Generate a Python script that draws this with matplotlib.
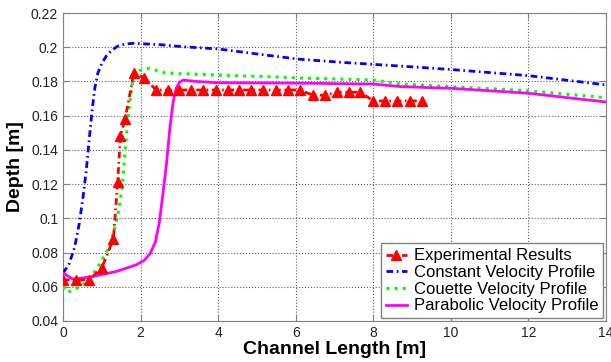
import numpy as np
import matplotlib
matplotlib.use('Agg')
import matplotlib.pyplot as plt

plt.rcParams['font.family'] = ['Liberation Sans', 'DejaVu Sans']

# experimental measurements
exp_x = [0, 0.33, 0.67, 1.0, 1.3, 1.41, 1.48, 1.6, 1.83, 2.1, 2.4, 2.7, 3.0, 3.3, 3.6,
         3.95, 4.25, 4.55, 4.85, 5.15, 5.5, 5.8, 6.1, 6.45, 6.75, 7.07, 7.37, 7.67,
         8.0, 8.3, 8.6, 8.95, 9.25]
exp_y = [0.064, 0.064, 0.064, 0.071, 0.088, 0.121, 0.148, 0.158, 0.185, 0.182, 0.175,
         0.175, 0.175, 0.175, 0.175, 0.175, 0.175, 0.175, 0.175, 0.175, 0.175, 0.175,
         0.175, 0.172, 0.172, 0.1737, 0.1737, 0.1737, 0.1686, 0.1686, 0.1686, 0.1686,
         0.1686]

# constant velocity profile
const_x = [0, 0.15, 0.3, 0.42, 0.52, 0.6, 0.68, 0.75, 0.82, 0.9, 1.0, 1.12, 1.25, 1.4,
           1.6, 1.8, 2.5, 3.1, 4.0, 5.2, 6.1, 7.3, 8.7, 10, 12, 14]
const_y = [0.068, 0.073, 0.083, 0.097, 0.113, 0.128, 0.147, 0.163, 0.176, 0.185,
           0.1905, 0.195, 0.198, 0.2005, 0.2018, 0.2023, 0.2015, 0.2003, 0.199, 0.1955,
           0.193, 0.191, 0.189, 0.187, 0.1834, 0.178]

# couette velocity profile
cou_x = [0, 0.12, 0.5, 0.86, 1.2, 1.41, 1.53, 1.61, 1.7, 1.8, 1.97, 2.23, 2.66, 3.95,
         5.6, 6.1, 8.0, 8.7, 10, 12, 14]
cou_y = [0.060, 0.0567, 0.0606, 0.070, 0.0835, 0.101, 0.1186, 0.142, 0.1634, 0.181,
         0.1863, 0.1877, 0.1848, 0.1838, 0.1825, 0.182, 0.1809, 0.1785, 0.177, 0.1745,
         0.1705]

# parabolic velocity profile
par_x = [0, 0.25, 0.68, 1.37, 1.89, 2.1, 2.25, 2.38, 2.48, 2.57, 2.66, 2.76, 2.84,
         2.92, 3.0, 3.1, 3.44, 3.95, 6.1, 8.0, 8.7, 10, 12, 14]
par_y = [0.068, 0.0645, 0.0656, 0.0689, 0.0728, 0.0755, 0.0795, 0.086, 0.097, 0.113,
         0.130, 0.1536, 0.168, 0.176, 0.1795, 0.1808, 0.180, 0.1793, 0.179, 0.1785,
         0.177, 0.176, 0.1731, 0.168]

xticks = [0, 2, 4, 6, 8, 10, 12, 14]
yticks = [0.04, 0.06, 0.08, 0.1, 0.12, 0.14, 0.16, 0.18, 0.2, 0.22]
ytick_labels = ['0.04', '0.06', '0.08', '0.1', '0.12', '0.14', '0.16', '0.18', '0.2', '0.22']

fig = plt.figure(figsize=(6.11, 3.62), dpi=100)
ax = fig.add_axes([0.1031, 0.1133, 0.8887, 0.8507])

# matlab style dash-dot
dd = (2.4, 1.3, 0.6, 1.3)

ax.plot(exp_x, exp_y, color='#ff0000', lw=2, dashes=dd, marker='^', markersize=6.5,
        label='Experimental Results', zorder=5)
ax.plot(const_x, const_y, color='#0000ff', lw=2, dashes=dd,
        label='Constant Velocity Profile', zorder=3)
ax.plot(cou_x, cou_y, ':', color='#00ff00', lw=2.2,
        label='Couette Velocity Profile', zorder=3)
ax.plot(par_x, par_y, '-', color='#ff00ff', lw=2,
        label='Parabolic Velocity Profile', zorder=4)

ax.set_xlim(0, 14)
ax.set_ylim(0.04, 0.22)
ax.set_xticks(xticks)
ax.set_yticks(yticks)
ax.set_yticklabels(ytick_labels)
ax.tick_params(direction='in', length=4, labelsize=10, colors='#808080',
               labelcolor='#222222', top=True, right=True, labeltop=False, labelright=False)
for s in ax.spines.values():
    s.set_color('#808080')

ax.grid(True, linestyle=':', color='#606060', lw=0.8)
ax.set_xlabel('Channel Length [m]', fontsize=14, fontweight='bold', labelpad=1)
ax.set_ylabel('Depth [m]', fontsize=14, fontweight='bold', labelpad=5)

leg = ax.legend(loc='lower right', fontsize=12, fancybox=False, framealpha=1,
                edgecolor='#808080', borderaxespad=0.15, labelspacing=0.1,
                handlelength=1.3, handletextpad=0.4, borderpad=0.3)
leg.get_frame().set_linewidth(1.0)

fig.savefig('out.png', dpi=100)
